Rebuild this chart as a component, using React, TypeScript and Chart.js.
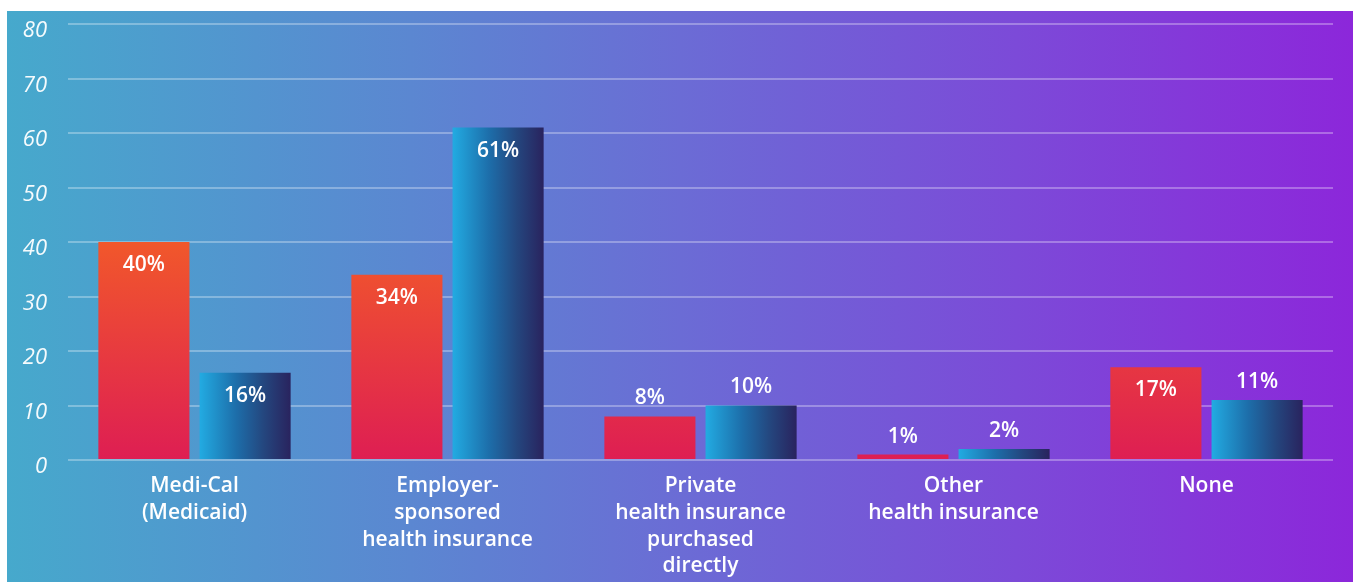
import React, { useEffect, useRef } from "react";
import { Chart, registerables } from "chart.js";

Chart.register(...registerables);

const categories: string[][] = [
  ["Medi-Cal", "(Medicaid)"],
  ["Employer-", "sponsored", "health insurance"],
  ["Private", "health insurance", "purchased", "directly"],
  ["Other", "health insurance"],
  ["None"],
];
const seriesA: number[] = [40, 34, 8, 1, 17];
const seriesB: number[] = [16, 61, 10, 2, 11];
const yMax = 80;
const yStep = 10;

const CAT_PCT = 0.8;
const BAR_PCT = 0.9;

const labelPlugin = {
  id: "valueLabels",
  afterDatasetsDraw(chart: any) {
    const ctx = chart.ctx;
    ctx.save();
    ctx.fillStyle = "#ffffff";
    ctx.font = "600 21px 'Open Sans'";
    ctx.textAlign = "center";
    ctx.textBaseline = "middle";
    chart.data.datasets.forEach((ds: any, di: number) => {
      const meta = chart.getDatasetMeta(di);
      meta.data.forEach((el: any, i: number) => {
        const v = ds.data[i];
        const inside = v >= 15;
        const y = inside ? el.y + 23 : el.y - 18;
        ctx.fillText(`${v}%`, el.x, y);
      });
    });
    ctx.restore();
  },
};

export default function App() {
  const ref = useRef<HTMLCanvasElement | null>(null);
  useEffect(() => {
    if (!ref.current) return;
    const redFill = (c: any) => {
      const chart = c.chart;
      if (!chart.chartArea || !chart.scales.y) return "#E43546";
      const ys = chart.scales.y;
      const g = chart.ctx.createLinearGradient(0, ys.getPixelForValue(42), 0, ys.getPixelForValue(0));
      g.addColorStop(0, "#F25A29");
      g.addColorStop(1, "#DE1E53");
      return g;
    };
    const blueFill = (c: any) => {
      const chart = c.chart;
      if (!chart.chartArea || !chart.scales.x) return "#1F6FA8";
      const xs = chart.scales.x;
      const i = c.dataIndex ?? 0;
      const center = xs.getPixelForValue(i);
      const catW = xs.width / categories.length;
      const slot = (catW * CAT_PCT) / 2;
      const barW = slot * BAR_PCT;
      const left = center + slot / 2 - barW / 2;
      const g = chart.ctx.createLinearGradient(left, 0, left + barW, 0);
      g.addColorStop(0, "#22ABE2");
      g.addColorStop(0.4, "#1D6EAA");
      g.addColorStop(0.7, "#24477F");
      g.addColorStop(1, "#29235E");
      return g;
    };
    const chart = new Chart(ref.current, {
      type: "bar",
      data: {
        labels: categories,
        datasets: [
          {
            label: "Series A",
            data: seriesA,
            backgroundColor: redFill,
            categoryPercentage: CAT_PCT,
            barPercentage: BAR_PCT,
            borderWidth: 0,
          },
          {
            label: "Series B",
            data: seriesB,
            backgroundColor: blueFill,
            categoryPercentage: CAT_PCT,
            barPercentage: BAR_PCT,
            borderWidth: 0,
          },
        ],
      },
      options: {
        responsive: false,
        animation: false,
        layout: { padding: { top: 24, right: 20, left: 0, bottom: 0 } },
        plugins: {
          legend: { display: false },
          tooltip: { enabled: false },
        },
        scales: {
          x: {
            grid: { display: false },
            border: { display: false },
            ticks: {
              color: "#ffffff",
              font: { family: "'Open Sans'", size: 21, weight: 600, lineHeight: 1.27 },
              padding: 5,
              maxRotation: 0,
              autoSkip: false,
            },
            afterFit: (s: any) => {
              s.height = 122;
            },
          },
          y: {
            min: 0,
            max: yMax,
            ticks: {
              stepSize: yStep,
              color: "rgba(255,255,255,0.95)",
              font: { family: "'Open Sans'", size: 22, weight: 400, style: "italic" },
              padding: 0,
              labelOffset: 7,
            },
            grid: {
              color: "rgba(255,255,255,0.3)",
              lineWidth: 2,
              drawTicks: true,
              tickLength: 21,
              tickColor: "rgba(0,0,0,0)",
            },
            border: { display: false },
            afterFit: (s: any) => {
              s.width = 68;
            },
          },
        },
      },
      plugins: [labelPlugin],
    });
    return () => chart.destroy();
  }, []);

  return (
    <div style={{ position: "absolute", left: 0, top: 0, width: 1353, height: 582, background: "#ffffff", overflow: "hidden" }}>
      <div
        style={{
          position: "absolute",
          left: 7,
          top: 11,
          width: 1346,
          height: 571,
          background: "linear-gradient(90deg, #46A9CC 0%, #5B87D1 30%, #6B6CD5 50%, #7C4AD8 75%, #8C27DA 100%)",
        }}
      />
      <canvas ref={ref} width={1353} height={582} style={{ position: "absolute", left: 0, top: 0 }} />
    </div>
  );
}
